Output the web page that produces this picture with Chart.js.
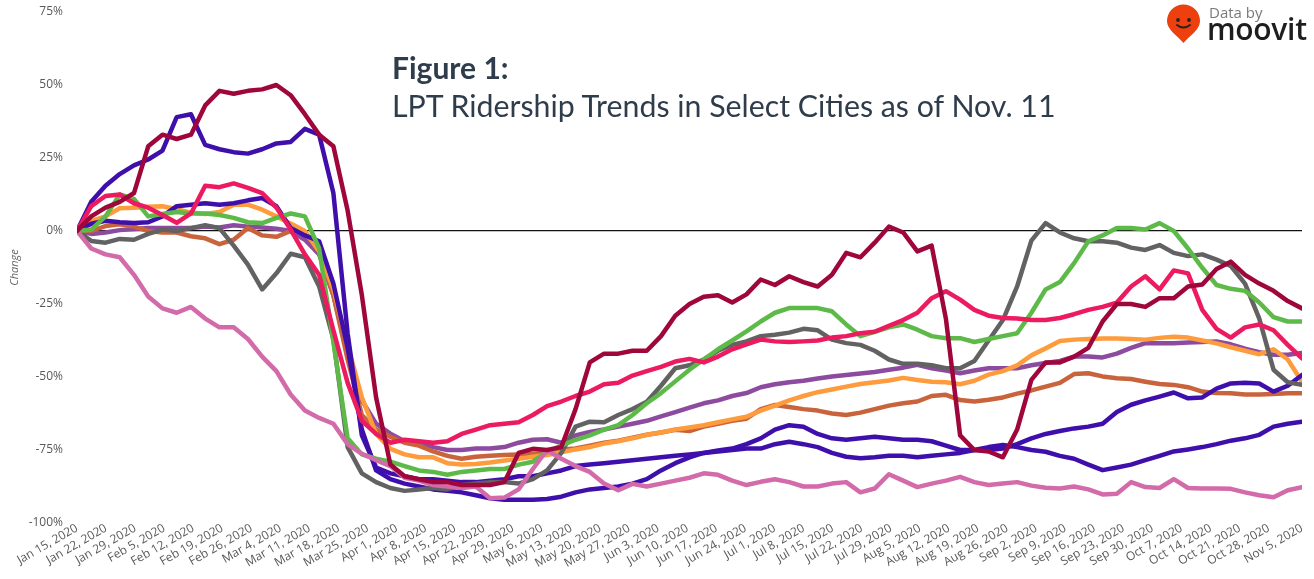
<!DOCTYPE html>
<html><head><meta charset="utf-8">
<script src="https://cdn.jsdelivr.net/npm/chart.js@4.4.1/dist/chart.umd.min.js"></script>
<style>
body{margin:0;background:#fff;}
#wrap{position:relative;width:1314px;height:579px;overflow:hidden;background:#fff}
#c{position:absolute;left:0;top:0}
.t1{position:absolute;left:392px;top:52px;font:700 30px Lato, 'Open Sans', sans-serif;color:#2f3c4b;line-height:30px;white-space:nowrap}
.t2{position:absolute;left:392px;top:90px;font:400 30.3px Lato, 'Open Sans', sans-serif;color:#2f3c4b;line-height:30px;white-space:nowrap}
.db{position:absolute;left:1209px;top:3px;font:400 15px 'Open Sans', sans-serif;color:#7a7a7a;line-height:18px;white-space:nowrap}
.mv{position:absolute;left:1207px;top:14px;font:600 30px 'Open Sans', sans-serif;color:#1e1e1e;line-height:30px;white-space:nowrap;letter-spacing:-0.3px}
#pin{position:absolute;left:0;top:0}
</style></head>
<body>
<div id="wrap">
<canvas id="c" width="1314" height="579"></canvas>
<div class="t1">Figure 1:</div>
<div class="t2">LPT Ridership Trends in Select Cities as of Nov. 11</div>
<svg id="pin" width="1314" height="60" viewBox="0 0 1314 60">
<path d="M1183.5 43 C1177 35 1167 30 1167 21 A16.5 16.5 0 1 1 1200 21 C1200 30 1190 35 1183.5 43 Z" fill="#ee400f"/>
<circle cx="1178" cy="20" r="1.9" fill="#222"/>
<circle cx="1189" cy="20" r="1.9" fill="#222"/>
<path d="M1177 25 Q1183.5 30 1190 25" stroke="#222" stroke-width="2" fill="none" stroke-linecap="round"/>
</svg>
<div class="db">Data by</div>
<div class="mv">moovit</div>
</div>
<script>
// sample days (days since Jan 15, 2020), about two samples per week
const days = [0,3.43,6.86,10.29,13.72,17.15,20.58,24.01,27.44,30.87,34.3,37.73,41.16,44.59,48.02,51.45,54.88,58.31,61.74,65.17,68.6,72.03,75.47,78.9,82.33,85.76,89.19,92.62,96.05,99.48,102.91,106.34,109.77,113.2,116.63,120.06,123.49,126.92,130.35,133.78,137.21,140.64,144.07,147.5,150.93,154.36,157.79,161.22,164.65,168.08,171.51,174.94,178.37,181.8,185.23,188.66,192.09,195.52,198.95,202.38,205.81,209.24,212.67,216.1,219.53,222.97,226.4,229.83,233.26,236.69,240.12,243.55,246.98,250.41,253.84,257.27,260.7,264.13,267.56,270.99,274.42,277.85,281.28,284.71,288.14,291.57,295];
const tickDays = [0,7,14,21,28,35,42,49,56,63,70,77,84,91,98,105,112,119,126,133,140,147,154,161,168,175,182,189,196,203,210,217,224,231,238,245,252,259,266,273,280,287,295];
const tickLabels = ["Jan 15, 2020","Jan 22, 2020","Jan 29, 2020","Feb 5, 2020","Feb 12, 2020","Feb 19, 2020","Feb 26, 2020","Mar 4, 2020","Mar 11, 2020","Mar 18, 2020","Mar 25, 2020","Apr 1, 2020","Apr 8, 2020","Apr 15, 2020","Apr 22, 2020","Apr 29, 2020","May 6, 2020","May 13, 2020","May 20, 2020","May 27, 2020","Jun 3, 2020","Jun 10, 2020","Jun 17, 2020","Jun 24, 2020","Jul 1, 2020","Jul 8, 2020","Jul 15, 2020","Jul 22, 2020","Jul 29, 2020","Aug 5, 2020","Aug 12, 2020","Aug 19, 2020","Aug 26, 2020","Sep 2, 2020","Sep 9, 2020","Sep 16, 2020","Sep 23, 2020","Sep 30, 2020","Oct 7, 2020","Oct 14, 2020","Oct 21, 2020","Oct 28, 2020","Nov 5, 2020"];
const yTicks = [-100,-75,-50,-25,0,25,50,75];

const maroon = [0,5,8,10,13,29,33,31.5,33,43, 48,47,48,48.5,50,46.5,40,33,29,7, -22,-57,-80,-84,-85,-86,-86,-87,-87,-87, -86,-76,-74.6,-75,-74,-61,-45,-42,-42,-41, -41,-36,-29,-25,-22.5,-22,-24.5,-21.7,-16.6,-18.5, -15.5,-17.5,-19,-15,-7.5,-9,-4,1.5,-0.5,-7, -5,-30,-70,-75,-75.5,-77.5,-68,-51,-45,-45, -43,-40,-31,-25,-25,-26,-23,-23,-19,-18.3, -13,-10.5,-15,-18,-20.5,-24,-26.5];
const indigoA = [0,10,15.5,19.5,22.5,24.5,27.5,39,40,29.5, 28,27,26.5,28,30,30.5,35,33,13,-35, -70,-81,-83,-84,-85,-85,-85.5,-86,-86,-85.5, -85,-84,-84,-83,-82,-80.5,-80,-79.5,-79,-78.5, -78,-77.5,-77,-76.5,-76,-75.5,-75,-74.5,-74.5,-73, -72.2,-73,-74,-76,-77.3,-77.8,-77.5,-77,-77,-77.5, -77,-76.5,-76,-75,-74,-73.3,-74,-75,-75.6,-77, -78,-80,-81.9,-81,-80,-78.5,-77,-75.5,-74.8,-74, -73,-71.8,-71,-69.8,-67,-66,-65.3];
const indigoB = [0,2.5,3.5,3,2.7,3,5,8.5,9,9.5, 9,9.5,10.5,11.3,8.5,1,-1.5,-3.5,-18,-40, -68,-82,-85,-86.5,-87.5,-88.5,-89,-89.5,-90.5,-91.5, -92,-92,-92,-91.8,-91,-89.5,-88.5,-88,-87.5,-86.5, -85,-82,-79.5,-77.5,-76,-75.2,-74.5,-73,-71,-68, -66.5,-67,-69.5,-71,-71.5,-71,-70.5,-71,-71.5,-71.5, -72,-73.5,-75,-75,-75,-74.5,-73,-71,-69.5,-68.5, -67.6,-67,-66,-62,-59.5,-58,-56.7,-55.3,-57.3,-57, -54,-52.2,-52,-52.2,-55,-53,-49.3];
const green = [0,0.5,5,12.5,11,5,5.8,6.5,6,6, 5.5,4.5,3,2.7,4.5,6,5,-6,-38,-71, -76.5,-78,-79,-80.5,-82,-82.5,-83.5,-82.5,-82,-81.5, -81.5,-80,-79,-75.6,-73.5,-71.5,-70,-68,-66.5,-63, -59,-55.5,-51.5,-47.5,-44,-40.5,-37.5,-34.4,-31,-28, -26.4,-26.4,-26.4,-27.5,-32,-36,-34.5,-33,-32,-33.8, -36,-36.7,-36.7,-38,-37,-36,-35,-28,-20,-17.5, -11,-3.5,-1.5,1,1,0.5,2.7,0,-6,-12.6, -18.5,-19.8,-20.5,-24.5,-29.5,-31,-31];
const gray = [0,-3.4,-4,-2.7,-3,-1,0.5,0,1,2, 1,-5,-11.5,-20,-14.5,-7.8,-9,-19,-37,-74, -83,-86,-88,-89,-88.5,-88,-88.5,-87,-86.5,-86, -86,-86.5,-85,-82,-76,-67,-65.3,-65.5,-63,-61, -58.5,-53,-47,-46,-44,-41,-39,-37.8,-36,-35.5, -34.8,-33.5,-34,-37.2,-38.4,-39,-41,-44,-45.5,-45.5, -46,-47,-47,-44.5,-37.5,-30.5,-19,-3.3,2.7,-0.5, -2.5,-3.5,-3.5,-4,-5.7,-6.5,-4.8,-7.5,-8.6,-8, -9.8,-12,-18,-30,-47.5,-51.8,-52.7];
const pink = [0,8.5,12,12.5,9.5,8,5.5,2.8,6,15.5, 15,16.3,14.8,13,8,0.5,-8,-15,-34,-52, -65,-69.5,-72.5,-71.5,-72,-72.5,-72,-69.5,-68,-66.5, -66,-65.5,-63,-60,-58.4,-56.5,-55,-52.5,-52,-49.5, -48,-46.5,-44.7,-43.8,-45,-43,-40.5,-38.8,-37.2,-37.8, -38,-37.8,-37.5,-36.5,-36,-35,-34.5,-32.5,-30.5,-28, -23,-20.6,-23.5,-27,-29,-29.8,-30,-30.5,-30.5,-29.8, -28.5,-27,-26,-24.5,-19,-15.5,-20,-13.5,-14.5,-27, -33.5,-36.5,-33,-32,-34,-39,-43.6];
const orange = [0,3.5,5,7.8,8,8.3,8.5,7.5,6.3,5.8, 6.5,9,9,7.3,5,2.6,0,-7,-20,-39, -57,-69.5,-74.6,-76.5,-77.5,-77.5,-79.5,-80,-79.8,-79.3, -78.6,-78,-77.3,-76.7,-75.8,-74.8,-74,-72.8,-72,-71, -69.8,-69,-68,-67.3,-66.5,-65.5,-64.5,-63.6,-61.5,-59.8, -58,-56.5,-55.2,-54.3,-53.3,-52.4,-51.8,-51.2,-50.3,-51, -51.6,-51.8,-52.5,-51.3,-49.2,-48,-46,-42.6,-40.2,-37.7, -37.2,-37,-36.8,-36.8,-37,-37.2,-36.6,-36.2,-36.5,-37.5, -38.5,-39.8,-41,-42.2,-40.5,-44,-51.6];
const purple = [0,-1,-0.5,0.3,0.7,1,1,1,1,1.5, 1.2,2,1.5,1.2,0.8,0,-3,-8,-22,-42, -58,-66,-69.4,-72,-72.5,-74,-75,-75,-74.5,-74.5, -74,-72.5,-71.5,-71.3,-72.5,-70,-68.8,-68,-67,-66, -65,-63.5,-62,-60.5,-59,-58,-56.5,-55.5,-53.5,-52.5, -51.8,-51.3,-50.5,-49.8,-49.3,-48.8,-48.3,-47.5,-46.8,-45.8, -47,-47.8,-48.7,-47.8,-47,-47,-47,-46,-45.2,-44.5, -43,-43,-43.3,-42,-40,-38.4,-38.4,-38.4,-38.2,-38, -37.8,-38.8,-40.3,-41.5,-42.4,-42.4,-41.8];
const rust = [0,0,1.7,2.3,1.5,0,-0.5,-0.5,-1.8,-2.5, -4.5,-3,1,-1.5,-2,0,-0.5,-7,-22,-44, -63,-68,-70.5,-72.5,-73.5,-75.5,-77,-78,-77.3,-77, -76.7,-76.5,-76.3,-76,-74.8,-74.5,-73.5,-72.5,-71.8,-70.8, -69.8,-69,-68.1,-68.5,-67,-66,-65,-64.3,-61,-59.6, -60.3,-61,-61.5,-62.5,-63,-62.2,-61,-59.8,-59,-58.4, -56.5,-56.1,-57.9,-58.4,-57.8,-57,-55.7,-54.6,-53.3,-52, -49,-48.7,-49.8,-50.4,-50.7,-51.6,-52.4,-52.7,-53.5,-55, -55.5,-55.6,-56,-56,-55.8,-55.6,-55.6];
const orchid = [0,-6,-8,-9,-15,-22.4,-26.5,-28,-26,-30, -33,-33,-37,-43,-48,-56,-61.5,-64,-66,-73, -76.3,-78.5,-80.5,-84.5,-85.5,-87,-87.5,-88,-87.5,-91.5, -91.3,-88.5,-81.5,-75,-78,-80.5,-82.5,-86.5,-88.8,-86.6, -87.5,-86.5,-85.5,-84.5,-83,-83.5,-85.5,-87,-85.9,-85, -86,-87.5,-87.5,-86.5,-86,-89.5,-88.2,-83.3,-85.5,-87.7, -86.5,-85.5,-84.2,-86,-87,-86.5,-86,-87.2,-87.9,-88.2, -87.5,-88.5,-90.2,-90,-86,-87.7,-88,-85,-88,-88.2, -88.2,-88.3,-89.5,-90.5,-91.2,-88.8,-87.7];

const seriesList = [
  {name:'maroon', values: maroon, color:'#9e063c'},
  {name:'pink', values: pink, color:'#ec1a5e'},
  {name:'orchid', values: orchid, color:'#d36aa9'},
  {name:'green', values: green, color:'#5dba48'},
  {name:'gray', values: gray, color:'#626262'},
  {name:'indigoA', values: indigoA, color:'#3f0fab'},
  {name:'indigoB', values: indigoB, color:'#3f0fab'},
  {name:'orange', values: orange, color:'#fe9b3c'},
  {name:'rust', values: rust, color:'#c9633b'},
  {name:'purple', values: purple, color:'#8d4ba0'}
];

const datasets = seriesList.map(s => ({
  label: s.name,
  data: s.values.map((v, i) => ({x: days[i], y: v})),
  borderColor: s.color,
  backgroundColor: s.color,
  borderWidth: 4.5,
  pointRadius: 0,
  tension: 0,
  fill: false,
  borderJoinStyle: 'round',
  borderCapStyle: 'round'
}));

new Chart(document.getElementById('c'), {
  type: 'line',
  data: { datasets },
  options: {
    responsive: false,
    animation: false,
    devicePixelRatio: 1,
    layout: { padding: { top: 12, right: 12, left: 0, bottom: 0 } },
    plugins: { legend: { display: false }, tooltip: { enabled: false }, title: { display: false } },
    scales: {
      x: {
        type: 'linear',
        min: 0, max: 295,
        afterBuildTicks: (scale) => { scale.ticks = tickDays.map(v => ({ value: v })); },
        afterFit: (scale) => { scale.height = 56; },
        grid: { display: false, drawTicks: false },
        border: { display: false },
        ticks: {
          autoSkip: false,
          maxRotation: 30, minRotation: 30,
          padding: -2,
          color: '#595959',
          font: { family: "'Open Sans'", size: 12 },
          callback: (v) => { const k = tickDays.indexOf(v); return k >= 0 ? tickLabels[k] : ''; }
        }
      },
      y: {
        min: -100, max: 75,
        afterBuildTicks: (scale) => { scale.ticks = yTicks.map(v => ({ value: v })); },
        afterFit: (scale) => { scale.width = 77; scale.paddingTop = 0; scale.paddingBottom = 0; },
        border: { display: false },
        grid: {
          drawTicks: false,
          color: (ctx) => (ctx.tick && ctx.tick.value === 0) ? '#111111' : 'rgba(0,0,0,0)',
          lineWidth: (ctx) => (ctx.tick && ctx.tick.value === 0) ? 1.3 : 0
        },
        ticks: {
          padding: 14,
          color: '#595959',
          font: { family: "'Open Sans'", size: 12 },
          callback: (v) => v + '%'
        },
        title: {
          display: true,
          text: 'Change',
          color: '#666666',
          font: { family: "'Open Sans'", size: 11, style: 'italic' },
          padding: { top: 8, bottom: 0 }
        }
      }
    }
  }
});
</script>
</body></html>
